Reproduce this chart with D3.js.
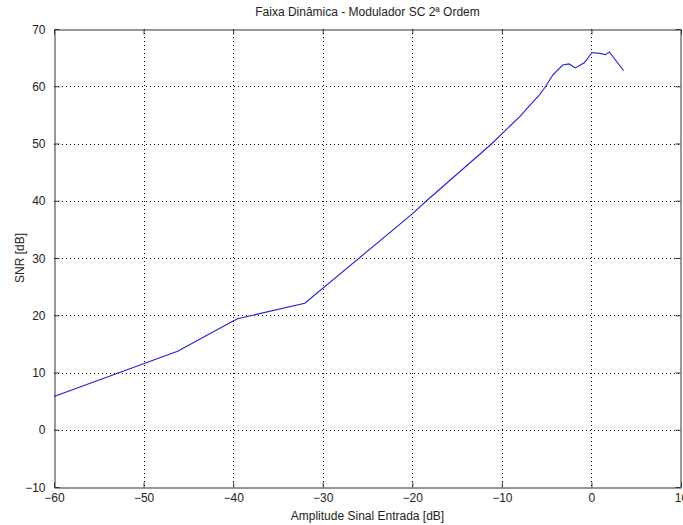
<!DOCTYPE html>
<html><head><meta charset="utf-8">
<script src="https://cdn.jsdelivr.net/npm/d3@7"></script>
<style>body{margin:0;background:#fff}svg{display:block}text{font-family:"Liberation Sans",Arial,sans-serif;fill:#222}</style>
</head><body>
<script>
const amplitude = [-60, -46.2, -40, -39.5, -32, -20, -18.4, -11.1, -10, -8, -6.5, -5.8, -5.1, -4.3, -3.2, -2.5, -1.8, -0.8, 0.07, 1.1, 1.56, 2.0, 3.6];
const snr = [5.8, 13.7, 19.0, 19.4, 22.1, 37.7, 40.0, 50.0, 51.7, 54.7, 57.3, 58.5, 60.0, 62.0, 63.7, 63.9, 63.2, 64.1, 65.9, 65.7, 65.5, 66.0, 62.7];
const xTicks = [-60, -50, -40, -30, -20, -10, 0, 10];
const yTicks = [-10, 0, 10, 20, 30, 40, 50, 60, 70];
const title = "Faixa Dinâmica - Modulador SC 2ª Ordem";
const xLabel = "Amplitude Sinal Entrada [dB]";
const yLabel = "SNR [dB]";

const W = 683, H = 525;
const L = 54, R = 681, T = 29, B = 487;
const svg = d3.select("body").append("svg").attr("width", W).attr("height", H);
svg.append("rect").attr("width", W).attr("height", H).attr("fill", "#fff");

const x = d3.scaleLinear().domain([-60, 10]).range([L, R]);
const y = d3.scaleLinear().domain([-10, 70]).range([B, T]);

// grid
const g = svg.append("g");
g.selectAll(".gx").data(xTicks.slice(1, -1)).join("line")
  .attr("x1", d => Math.round(x(d)) + 0.5).attr("x2", d => Math.round(x(d)) + 0.5)
  .attr("y1", T).attr("y2", B)
  .attr("stroke", "#000").attr("stroke-width", 1).attr("stroke-dasharray", "1,3");
g.selectAll(".gy").data(yTicks.slice(1, -1)).join("line")
  .attr("y1", d => Math.round(y(d)) + 0.5).attr("y2", d => Math.round(y(d)) + 0.5)
  .attr("x1", L).attr("x2", R)
  .attr("stroke", "#000").attr("stroke-width", 1).attr("stroke-dasharray", "1,3");

// line
const line = d3.line().x((d, i) => x(amplitude[i])).y(d => y(d));
svg.append("path").datum(snr).attr("d", line)
  .attr("fill", "none").attr("stroke", "#2020d8").attr("stroke-width", 1.1);

// axes with inward ticks
const tl = 5;
const xb = svg.append("g").attr("transform", `translate(0,${B + 0.5})`)
  .call(d3.axisBottom(x).tickValues(xTicks).tickSizeInner(-tl).tickSizeOuter(0).tickPadding(tl + 3).tickFormat(d3.format("d")));
const xt = svg.append("g").attr("transform", `translate(0,${T + 0.5})`)
  .call(d3.axisTop(x).tickValues(xTicks).tickSizeInner(-tl).tickSizeOuter(0).tickFormat(""));
const yl = svg.append("g").attr("transform", `translate(${L + 0.5},0)`)
  .call(d3.axisLeft(y).tickValues(yTicks).tickSizeInner(-tl).tickSizeOuter(0).tickPadding(tl + 4).tickFormat(d3.format("d")));
const yr = svg.append("g").attr("transform", `translate(${R - 0.5},0)`)
  .call(d3.axisRight(y).tickValues(yTicks).tickSizeInner(-tl).tickSizeOuter(0).tickFormat(""));
[xb, xt, yl, yr].forEach(a => {
  a.select(".domain").attr("stroke", "#333");
  a.selectAll(".tick line").attr("stroke", "#333");
  a.selectAll("text").attr("font-size", 12).attr("fill", "#222").style("font-family", '"Liberation Sans", Arial, sans-serif');
});
xb.selectAll("text").attr("dy", "0.55em");
yl.selectAll("text").attr("dy", "0.35em");

// labels
svg.append("text").attr("x", (L + R) / 2).attr("y", 16).attr("text-anchor", "middle").attr("font-size", 12).text(title);
svg.append("text").attr("x", (L + R) / 2).attr("y", 520).attr("text-anchor", "middle").attr("font-size", 12).text(xLabel);
svg.append("text").attr("transform", `translate(24,${(T + B) / 2}) rotate(-90)`).attr("text-anchor", "middle").attr("font-size", 12).text(yLabel);
</script>
</body></html>
